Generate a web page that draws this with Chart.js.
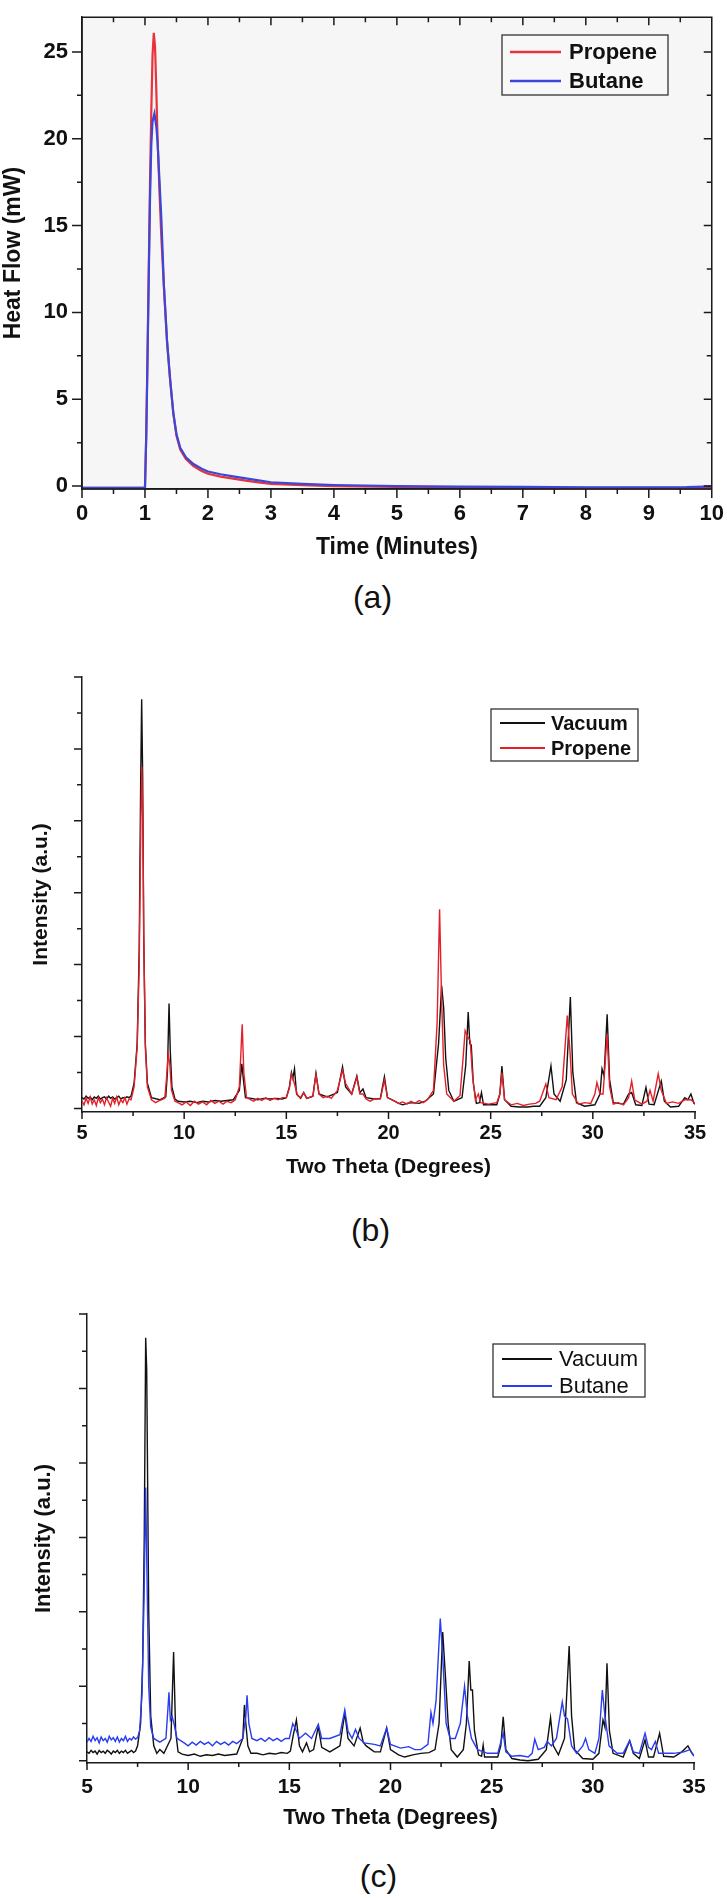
<!DOCTYPE html>
<html>
<head>
<meta charset="utf-8">
<script src="https://cdn.jsdelivr.net/npm/chart.js@4.4.0/dist/chart.umd.min.js"></script>
<style>
  body { margin: 0; background: #fff; width: 727px; height: 1898px; position: relative; overflow: hidden; }
  canvas { position: absolute; left: 0; }
  .tag { position: absolute; left: 9px; width: 727px; text-align: center; font-family: 'Liberation Sans', Arial, sans-serif; font-size: 32px; line-height: 1; color: #111; }
</style>
</head>
<body>
<canvas id="chartA" width="727" height="570" style="top:0px"></canvas>
<div class="tag" style="top:581px">(a)</div>
<canvas id="chartB" width="727" height="545" style="top:640px"></canvas>
<div class="tag" style="top:1214px; left:7px">(b)</div>
<canvas id="chartC" width="727" height="555" style="top:1280px"></canvas>
<div class="tag" style="top:1860px; left:15px">(c)</div>
<script>
const FONT = "'Liberation Sans', Arial, sans-serif";

// (a) heat flow vs time, [minutes, mW]
const propeneHeat = [[0,-0.1],[0.5,-0.1],[1.0,-0.1],[1.02,3.0],[1.04,7.5],[1.06,12.5],[1.08,17.5],[1.1,21.5],[1.12,24.8],[1.14,26.1],[1.16,25.3],[1.18,22.8],[1.2,20.0],[1.23,17.0],[1.26,14.3],[1.3,11.5],[1.35,8.3],[1.4,6.1],[1.45,4.2],[1.5,2.9],[1.56,2.1],[1.65,1.55],[1.77,1.15],[1.9,0.86],[2.0,0.71],[2.2,0.54],[2.4,0.43],[2.6,0.31],[2.83,0.2],[3.0,0.12],[3.5,0.05],[4.0,0.0],[5.0,-0.05],[6.0,-0.07],[7.0,-0.08],[8.0,-0.1],[9.0,-0.1],[10,-0.1]];
const butaneHeat = [[0,-0.1],[0.5,-0.1],[1.0,-0.1],[1.02,2.8],[1.04,7.2],[1.06,12.0],[1.08,16.5],[1.1,19.6],[1.12,21.0],[1.15,21.45],[1.18,20.7],[1.2,19.8],[1.23,17.6],[1.26,15.4],[1.3,11.6],[1.35,8.4],[1.4,6.1],[1.45,4.2],[1.5,3.0],[1.56,2.2],[1.65,1.65],[1.77,1.27],[1.9,1.0],[2.0,0.84],[2.2,0.68],[2.4,0.56],[2.6,0.44],[2.83,0.31],[3.0,0.22],[3.5,0.12],[4.0,0.06],[5.0,0.0],[6.0,-0.03],[7.0,-0.05],[8.0,-0.07],[9.0,-0.07],[9.6,-0.06],[10,-0.02]];
const timeTicks = [0,0.5,1,1.5,2,2.5,3,3.5,4,4.5,5,5.5,6,6.5,7,7.5,8,8.5,9,9.5,10];
const heatTicks = [0,2.5,5,7.5,10,12.5,15,17.5,20,22.5,25];

// (b) XRD vacuum vs propene, [two theta, intensity]
const vacuumB = [[5.0,0.15],[5.1,0.13],[5.2,0.17],[5.3,0.14],[5.4,0.16],[5.5,0.12],[5.6,0.16],[5.7,0.14],[5.8,0.17],[5.9,0.13],[6.0,0.15],[6.1,0.16],[6.2,0.13],[6.3,0.17],[6.4,0.14],[6.5,0.16],[6.6,0.13],[6.7,0.15],[6.8,0.17],[6.9,0.13],[7.0,0.15],[7.1,0.14],[7.2,0.16],[7.3,0.15],[7.4,0.17],[7.55,0.35],[7.7,0.9],[7.8,2.2],[7.87,4.5],[7.92,5.69],[7.97,4.6],[8.02,2.4],[8.1,0.9],[8.2,0.35],[8.4,0.15],[8.8,0.12],[9.1,0.16],[9.18,0.5],[9.26,1.46],[9.32,0.8],[9.4,0.3],[9.55,0.13],[9.7,0.1],[10.0,0.09],[10.3,0.1],[10.6,0.08],[10.9,0.1],[11.2,0.09],[11.5,0.11],[11.8,0.1],[12.1,0.11],[12.4,0.12],[12.7,0.25],[12.82,0.62],[12.9,0.4],[13.0,0.15],[13.3,0.14],[13.6,0.12],[13.9,0.14],[14.2,0.13],[14.5,0.14],[14.8,0.13],[15.0,0.15],[15.15,0.3],[15.25,0.5],[15.32,0.42],[15.4,0.55],[15.5,0.2],[15.7,0.14],[15.85,0.22],[16.0,0.14],[16.3,0.17],[16.45,0.49],[16.6,0.2],[17.0,0.16],[17.5,0.22],[17.75,0.58],[17.9,0.3],[18.2,0.2],[18.45,0.45],[18.6,0.22],[18.75,0.27],[18.9,0.15],[19.3,0.13],[19.6,0.14],[19.8,0.44],[19.95,0.15],[20.3,0.1],[20.5,0.07],[20.7,0.05],[20.9,0.07],[21.2,0.08],[21.5,0.07],[21.8,0.1],[22.2,0.2],[22.45,0.9],[22.6,1.71],[22.7,1.4],[22.8,0.7],[22.95,0.25],[23.2,0.1],[23.6,0.15],[23.78,0.6],[23.9,1.34],[23.98,0.9],[24.05,0.88],[24.15,0.35],[24.3,0.07],[24.45,0.08],[24.55,0.22],[24.65,0.05],[25.3,0.05],[25.45,0.2],[25.55,0.59],[25.68,0.12],[26.0,0.03],[26.4,0.02],[26.8,0.02],[27.1,0.03],[27.4,0.03],[27.7,0.15],[27.95,0.59],[28.1,0.2],[28.4,0.1],[28.7,0.4],[28.9,1.55],[29.02,0.5],[29.2,0.08],[29.6,0.03],[30.1,0.05],[30.35,0.2],[30.45,0.55],[30.55,0.45],[30.7,1.31],[30.82,0.4],[31.0,0.08],[31.5,0.06],[31.75,0.2],[31.9,0.22],[32.1,0.05],[32.4,0.04],[32.6,0.29],[32.75,0.06],[33.0,0.05],[33.35,0.38],[33.5,0.1],[33.8,0.02],[34.2,0.03],[34.5,0.15],[34.65,0.12],[34.8,0.2],[34.95,0.07],[35.0,0.06]];
const propeneB = [[5.0,0.1],[5.1,0.05],[5.2,0.14],[5.3,0.07],[5.4,0.16],[5.5,0.06],[5.6,0.12],[5.7,0.04],[5.8,0.15],[5.9,0.08],[6.0,0.13],[6.1,0.05],[6.2,0.15],[6.3,0.09],[6.4,0.03],[6.5,0.14],[6.6,0.07],[6.7,0.16],[6.8,0.05],[6.9,0.12],[7.0,0.08],[7.1,0.15],[7.2,0.06],[7.3,0.13],[7.4,0.12],[7.55,0.3],[7.7,0.85],[7.8,2.0],[7.88,4.0],[7.93,4.75],[7.98,3.9],[8.03,2.2],[8.1,0.85],[8.2,0.3],[8.4,0.12],[8.6,0.08],[8.8,0.11],[9.05,0.14],[9.13,0.4],[9.22,0.76],[9.3,0.6],[9.38,0.25],[9.55,0.1],[9.7,0.08],[9.9,0.05],[10.1,0.09],[10.3,0.04],[10.5,0.1],[10.7,0.06],[10.9,0.09],[11.1,0.05],[11.3,0.11],[11.5,0.07],[11.7,0.1],[11.9,0.06],[12.1,0.1],[12.3,0.08],[12.5,0.12],[12.7,0.3],[12.84,1.17],[12.92,0.5],[13.05,0.15],[13.2,0.13],[13.4,0.1],[13.6,0.14],[13.8,0.11],[14.0,0.15],[14.2,0.11],[14.4,0.14],[14.6,0.12],[14.8,0.15],[15.0,0.15],[15.15,0.28],[15.25,0.48],[15.4,0.34],[15.55,0.18],[15.7,0.15],[15.85,0.22],[16.0,0.14],[16.3,0.17],[16.45,0.47],[16.6,0.2],[16.8,0.15],[17.0,0.17],[17.2,0.14],[17.5,0.25],[17.75,0.53],[17.9,0.35],[18.2,0.2],[18.45,0.43],[18.6,0.2],[18.75,0.2],[18.9,0.13],[19.1,0.1],[19.3,0.13],[19.6,0.13],[19.8,0.39],[19.95,0.15],[20.3,0.1],[20.5,0.07],[20.7,0.09],[20.9,0.06],[21.1,0.1],[21.3,0.07],[21.5,0.11],[21.7,0.08],[21.9,0.12],[22.2,0.25],[22.38,1.2],[22.5,2.77],[22.6,1.5],[22.7,0.6],[22.85,0.2],[23.2,0.1],[23.5,0.18],[23.65,0.7],[23.75,1.08],[23.9,0.98],[24.0,0.94],[24.1,0.5],[24.25,0.12],[24.4,0.2],[24.5,0.08],[24.9,0.06],[25.3,0.08],[25.45,0.2],[25.55,0.5],[25.68,0.12],[26.0,0.05],[26.3,0.07],[26.6,0.04],[26.9,0.06],[27.2,0.07],[27.4,0.1],[27.7,0.34],[27.85,0.15],[28.2,0.12],[28.5,0.3],[28.75,1.29],[28.88,0.8],[29.0,0.2],[29.3,0.06],[29.6,0.08],[29.9,0.07],[30.1,0.2],[30.2,0.36],[30.35,0.2],[30.5,0.2],[30.7,1.03],[30.82,0.3],[31.0,0.06],[31.25,0.08],[31.5,0.05],[31.75,0.15],[31.9,0.38],[32.05,0.12],[32.4,0.06],[32.65,0.1],[32.8,0.25],[32.95,0.1],[33.2,0.48],[33.35,0.25],[33.6,0.07],[33.9,0.09],[34.2,0.07],[34.5,0.12],[34.8,0.12],[35.0,0.07]];

// (c) XRD vacuum vs butane
const vacuumC = [[5.0,0.12],[5.1,0.1],[5.2,0.14],[5.3,0.11],[5.4,0.13],[5.5,0.09],[5.6,0.14],[5.7,0.11],[5.8,0.13],[5.9,0.1],[6.0,0.14],[6.1,0.12],[6.2,0.09],[6.3,0.13],[6.4,0.11],[6.5,0.14],[6.6,0.1],[6.7,0.13],[6.8,0.11],[6.9,0.14],[7.0,0.1],[7.1,0.12],[7.2,0.14],[7.3,0.11],[7.4,0.13],[7.5,0.2],[7.65,0.5],[7.75,1.3],[7.83,3.0],[7.9,5.68],[7.95,5.26],[8.05,2.0],[8.15,0.6],[8.3,0.2],[8.45,0.1],[8.6,0.15],[8.8,0.1],[9.15,0.3],[9.28,1.46],[9.38,0.4],[9.5,0.12],[9.7,0.09],[10.0,0.07],[10.3,0.09],[10.6,0.06],[10.9,0.08],[11.2,0.07],[11.5,0.09],[11.8,0.07],[12.1,0.08],[12.4,0.09],[12.7,0.3],[12.78,0.75],[12.85,0.5],[12.95,0.2],[13.1,0.1],[13.4,0.1],[13.7,0.08],[14.0,0.1],[14.3,0.09],[14.6,0.11],[14.9,0.1],[15.05,0.13],[15.2,0.35],[15.35,0.55],[15.5,0.2],[15.65,0.12],[15.85,0.24],[16.0,0.12],[16.2,0.15],[16.43,0.46],[16.6,0.18],[17.0,0.12],[17.5,0.2],[17.74,0.64],[17.9,0.3],[18.2,0.2],[18.5,0.44],[18.65,0.25],[18.8,0.2],[19.2,0.12],[19.5,0.12],[19.81,0.44],[20.0,0.15],[20.4,0.08],[20.7,0.05],[21.1,0.08],[21.5,0.1],[21.9,0.11],[22.2,0.15],[22.4,0.5],[22.58,1.73],[22.7,1.2],[22.85,0.5],[23.0,0.15],[23.3,0.05],[23.6,0.15],[23.75,0.5],[23.89,1.34],[23.97,0.95],[24.05,0.95],[24.15,0.4],[24.35,0.08],[24.5,0.06],[24.58,0.21],[24.65,0.05],[25.3,0.05],[25.45,0.2],[25.57,0.59],[25.7,0.15],[26.0,0.03],[26.4,0.01],[26.8,0.0],[27.3,0.02],[27.7,0.15],[27.91,0.58],[28.05,0.2],[28.3,0.08],[28.6,0.3],[28.83,1.54],[28.95,0.6],[29.1,0.15],[29.5,0.03],[30.0,0.02],[30.3,0.1],[30.5,0.55],[30.6,0.45],[30.7,1.31],[30.82,0.4],[31.0,0.1],[31.5,0.05],[31.82,0.27],[32.0,0.1],[32.3,0.03],[32.58,0.28],[32.75,0.05],[33.0,0.05],[33.3,0.37],[33.5,0.06],[34.0,0.05],[34.4,0.12],[34.7,0.2],[34.9,0.1],[35.0,0.07]];
const butaneC = [[5.0,0.25],[5.1,0.3],[5.2,0.26],[5.3,0.33],[5.4,0.27],[5.5,0.31],[5.6,0.24],[5.7,0.32],[5.8,0.27],[5.9,0.3],[6.0,0.25],[6.1,0.33],[6.2,0.28],[6.3,0.31],[6.4,0.26],[6.5,0.32],[6.6,0.25],[6.7,0.3],[6.8,0.27],[6.9,0.33],[7.0,0.26],[7.1,0.3],[7.2,0.28],[7.3,0.32],[7.4,0.29],[7.5,0.31],[7.6,0.4],[7.72,0.9],[7.82,2.2],[7.9,3.67],[7.97,2.4],[8.05,1.0],[8.15,0.45],[8.3,0.3],[8.6,0.25],[8.9,0.3],[9.0,0.7],[9.05,0.92],[9.12,0.55],[9.2,0.6],[9.3,0.5],[9.45,0.3],[9.8,0.24],[10.0,0.2],[10.2,0.25],[10.4,0.21],[10.6,0.26],[10.8,0.22],[11.0,0.25],[11.2,0.2],[11.4,0.26],[11.6,0.22],[11.8,0.25],[12.0,0.21],[12.2,0.26],[12.4,0.23],[12.7,0.3],[12.85,0.6],[12.91,0.88],[13.0,0.5],[13.15,0.3],[13.4,0.27],[13.6,0.3],[13.8,0.26],[14.0,0.31],[14.2,0.27],[14.4,0.3],[14.6,0.26],[14.8,0.3],[15.0,0.3],[15.17,0.5],[15.35,0.4],[15.5,0.3],[15.8,0.37],[16.1,0.3],[16.43,0.49],[16.6,0.3],[17.0,0.3],[17.5,0.35],[17.74,0.68],[17.9,0.4],[18.1,0.3],[18.27,0.42],[18.45,0.3],[18.7,0.24],[19.2,0.22],[19.5,0.2],[19.81,0.44],[20.0,0.22],[20.5,0.17],[20.9,0.19],[21.2,0.15],[21.5,0.15],[21.85,0.22],[22.0,0.65],[22.1,0.5],[22.25,0.8],[22.46,1.91],[22.6,1.3],[22.75,0.5],[22.95,0.3],[23.2,0.3],[23.45,0.5],[23.66,1.0],[23.8,0.6],[24.0,0.3],[24.3,0.15],[24.8,0.1],[25.3,0.1],[25.57,0.37],[25.7,0.12],[26.0,0.06],[26.4,0.07],[26.8,0.05],[27.0,0.1],[27.13,0.29],[27.3,0.15],[27.6,0.18],[27.75,0.26],[27.95,0.2],[28.2,0.3],[28.49,0.79],[28.6,0.6],[28.75,0.56],[28.95,0.2],[29.2,0.1],[29.5,0.2],[29.64,0.3],[29.8,0.15],[30.1,0.1],[30.3,0.3],[30.47,0.95],[30.6,0.6],[30.8,0.2],[31.2,0.1],[31.5,0.1],[31.82,0.27],[32.0,0.12],[32.3,0.1],[32.58,0.37],[32.75,0.18],[32.9,0.15],[33.09,0.26],[33.25,0.1],[33.6,0.1],[34.0,0.1],[34.5,0.12],[34.8,0.15],[35.0,0.06]];

const thetaTicks = [5,7.5,10,12.5,15,17.5,20,22.5,25,27.5,30,32.5,35];
const intensityTicks = [0,0.5,1,1.5,2,2.5,3,3.5,4,4.5,5,5.5,6];

function pts(list) {
  return list.map(p => ({ x: p[0], y: p[1] }));
}

// draws tick marks (major/minor), optional mirrored inner ticks and full frame
const frameTicks = {
  id: 'frameTicks',
  beforeDraw(chart, args, o) {
    if (!o.bg) return;
    const a = chart.chartArea;
    chart.ctx.save();
    chart.ctx.fillStyle = o.bg;
    chart.ctx.fillRect(a.left, a.top, a.width, a.height);
    chart.ctx.restore();
  },
  afterDraw(chart, args, o) {
    const ctx = chart.ctx, a = chart.chartArea;
    const xs = chart.scales.x, ys = chart.scales.y;
    const major = (v, step) => Math.abs(v / step - Math.round(v / step)) < 1e-6;
    ctx.save();
    ctx.strokeStyle = '#1a1a1a';
    ctx.lineWidth = o.width;
    ctx.beginPath();
    xs.ticks.forEach(t => {
      const p = xs.getPixelForValue(t.value);
      const m = major(t.value, o.xMajor);
      ctx.moveTo(p, a.bottom);
      ctx.lineTo(p, a.bottom + (m ? o.xLen : o.xMinor));
      if (o.box) {
        ctx.moveTo(p, a.top);
        ctx.lineTo(p, a.top + (m ? o.inLen : o.inMinor));
      }
    });
    ys.ticks.forEach(t => {
      const p = ys.getPixelForValue(t.value);
      const m = major(t.value, o.yMajor);
      ctx.moveTo(a.left, p);
      ctx.lineTo(a.left - (m ? o.yLen : o.yMinor), p);
      if (o.box) {
        ctx.moveTo(a.right, p);
        ctx.lineTo(a.right - (m ? o.inLen : o.inMinor), p);
      }
    });
    if (o.box) ctx.rect(a.left, a.top, a.width, a.height);
    ctx.stroke();
    ctx.restore();
  }
};

const boxLegend = {
  id: 'boxLegend',
  afterDraw(chart, args, o) {
    const ctx = chart.ctx;
    ctx.save();
    ctx.fillStyle = o.fill;
    ctx.fillRect(o.x, o.y, o.w, o.h);
    ctx.strokeStyle = '#333';
    ctx.lineWidth = 1.3;
    ctx.strokeRect(o.x, o.y, o.w, o.h);
    ctx.font = o.font;
    ctx.textBaseline = 'middle';
    chart.data.datasets.forEach((ds, i) => {
      const yy = o.rowY + i * o.rowH;
      ctx.strokeStyle = ds.borderColor;
      ctx.lineWidth = o.lineW;
      ctx.beginPath();
      ctx.moveTo(o.lineX, yy);
      ctx.lineTo(o.lineX + o.lineLen, yy);
      ctx.stroke();
      ctx.fillStyle = '#111';
      ctx.fillText(ds.label, o.textX, yy + 1);
    });
    ctx.restore();
  }
};

function baseOptions(pad) {
  return {
    responsive: false,
    animation: false,
    events: [],
    layout: { padding: pad },
    elements: { point: { radius: 0 }, line: { tension: 0 } },
    plugins: { legend: { display: false }, tooltip: { enabled: false } }
  };
}

function axis(o) {
  return {
    type: 'linear',
    min: o.min,
    max: o.max,
    afterBuildTicks: s => { s.ticks = o.ticks.map(v => ({ value: v })); },
    afterFit: s => { if (o.width) s.width = o.width; if (o.height) s.height = o.height; },
    ticks: {
      autoSkip: false,
      maxRotation: 0,
      padding: o.tickPad,
      color: '#111',
      font: { family: FONT, size: o.tickSize, weight: 'bold' },
      callback: v => (o.labels && Math.abs(v / o.labelStep - Math.round(v / o.labelStep)) < 1e-6) ? String(v) : ''
    },
    grid: { display: true, drawOnChartArea: false, drawTicks: true, tickLength: o.tickLen, tickColor: 'rgba(0,0,0,0)' },
    border: { display: true, color: '#1a1a1a', width: 1.5 },
    title: {
      display: true,
      text: o.title,
      color: '#111',
      font: { family: FONT, size: o.titleSize, weight: 'bold' },
      padding: o.titlePad
    }
  };
}

// ---- (a) ----
const optA = baseOptions({ top: 5, right: 13, left: 0, bottom: 0 });
optA.plugins.frameTicks = { bg: '#f6f6f6', box: true, width: 1.5, xMajor: 1, yMajor: 5, xLen: 9, xMinor: 5, yLen: 10, yMinor: 5, inLen: 8, inMinor: 5 };
optA.plugins.boxLegend = { fill: '#f8f8f8', x: 502, y: 35, w: 166, h: 60, rowY: 52, rowH: 29, lineX: 510, lineLen: 51, lineW: 2.5, textX: 569, font: 'bold 22px ' + FONT };
optA.scales = {
  x: axis({ min: 0, max: 10, ticks: timeTicks, labels: true, labelStep: 1, height: 81, tickPad: 3, tickLen: 9, tickSize: 22, title: 'Time (Minutes)', titleSize: 23, titlePad: { top: 0, bottom: 9 } }),
  y: axis({ min: -0.17, max: 27.0, ticks: heatTicks, labels: true, labelStep: 5, width: 82, tickPad: 4, tickLen: 10, tickSize: 22, title: 'Heat Flow (mW)', titleSize: 23, titlePad: { top: 0, bottom: 0 } })
};
new Chart(document.getElementById('chartA'), {
  type: 'line',
  data: {
    datasets: [
      { label: 'Propene', data: pts(propeneHeat), borderColor: '#e8323c', borderWidth: 2.2, order: 1 },
      { label: 'Butane', data: pts(butaneHeat), borderColor: '#3b47d8', borderWidth: 2.2, order: 0 }
    ]
  },
  options: optA,
  plugins: [frameTicks, boxLegend]
});

// ---- (b) ----
const optB = baseOptions({ top: 37, right: 32, left: 0, bottom: 0 });
optB.plugins.frameTicks = { box: false, width: 1.5, xMajor: 5, yMajor: 1, xLen: 7, xMinor: 4, yLen: 8, yMinor: 5 };
optB.plugins.boxLegend = { fill: '#fff', x: 491, y: 69, w: 147, h: 52, rowY: 83, rowH: 25, lineX: 500, lineLen: 45, lineW: 1.8, textX: 551, font: 'bold 20px ' + FONT };
optB.scales = {
  x: axis({ min: 5, max: 35, ticks: thetaTicks, labels: true, labelStep: 5, height: 73, tickPad: 2, tickLen: 7, tickSize: 20, title: 'Two Theta (Degrees)', titleSize: 21, titlePad: { top: 0, bottom: 5 } }),
  y: axis({ min: -0.05, max: 6, ticks: intensityTicks, labels: false, labelStep: 1, width: 82, tickPad: 3, tickLen: 8, tickSize: 18, title: 'Intensity (a.u.)', titleSize: 21, titlePad: { top: 29, bottom: 0 } })
};
new Chart(document.getElementById('chartB'), {
  type: 'line',
  data: {
    datasets: [
      { label: 'Vacuum', data: pts(vacuumB), borderColor: '#111111', borderWidth: 1.4, order: 1 },
      { label: 'Propene', data: pts(propeneB), borderColor: '#e3202a', borderWidth: 1.4, order: 0 }
    ]
  },
  options: optB,
  plugins: [frameTicks, boxLegend]
});

// ---- (c) ----
const optC = baseOptions({ top: 34, right: 33, left: 0, bottom: 0 });
optC.plugins.frameTicks = { box: false, width: 1.5, xMajor: 5, yMajor: 1, xLen: 7, xMinor: 4, yLen: 8, yMinor: 5 };
optC.plugins.boxLegend = { fill: '#fff', x: 493, y: 64, w: 152, h: 53, rowY: 79, rowH: 27, lineX: 502, lineLen: 50, lineW: 1.8, textX: 559, font: '22px ' + FONT };
optC.scales = {
  x: axis({ min: 5, max: 35, ticks: thetaTicks, labels: true, labelStep: 5, height: 72, tickPad: 5, tickLen: 7, tickSize: 21, title: 'Two Theta (Degrees)', titleSize: 22, titlePad: { top: 0, bottom: 4 } }),
  y: axis({ min: -0.03, max: 6, ticks: intensityTicks, labels: false, labelStep: 1, width: 87, tickPad: 3, tickLen: 8, tickSize: 19, title: 'Intensity (a.u.)', titleSize: 22, titlePad: { top: 31, bottom: 0 } })
};
new Chart(document.getElementById('chartC'), {
  type: 'line',
  data: {
    datasets: [
      { label: 'Vacuum', data: pts(vacuumC), borderColor: '#111111', borderWidth: 1.4, order: 1 },
      { label: 'Butane', data: pts(butaneC), borderColor: '#2a3cf0', borderWidth: 1.4, order: 0 }
    ]
  },
  options: optC,
  plugins: [frameTicks, boxLegend]
});
</script>
</body>
</html>
